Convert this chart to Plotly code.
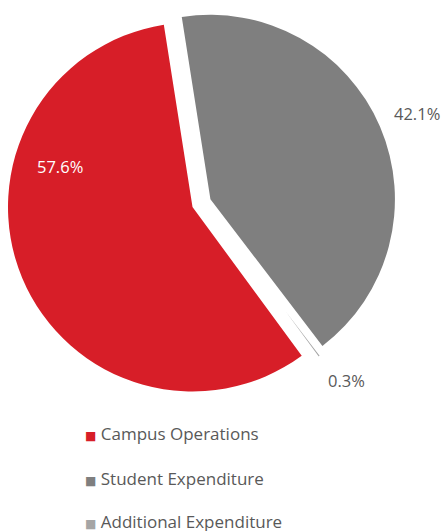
import math
import plotly.graph_objects as go

categories = ["Campus Operations", "Student Expenditure", "Additional Expenditure"]
values = [57.6, 42.1, 0.3]
colors = ["#D71E28", "#7F7F7F", "#A5A5A5"]

# style / layout constants
W, H = 443, 531
CX, CY, R = 192.5, 207.0, 184.5          # base pie centre and radius (px)
ROTATION = 143.7
explode_radial_px = [0.0, 19.5, 12.0]
explode_tangential_px = [0.0, 0.0, 12.0]  # towards the preceding (anticlockwise) side
border_px = [0.0, 0.0, 2.4]               # white slice border
label_pos = [(60, 167), (416.5, 113), (346.5, 380)]
label_colors = ["#FFFFFF", "#595959", "#595959"]
legend_x = 83
legend_rows = [433, 478, 521]
FONT = "Open Sans"

total = sum(values)
fig = go.Figure()

cum = 0.0
for i, (cat, v) in enumerate(zip(categories, values)):
    start = ROTATION + 360.0 * cum / total
    mid = math.radians(start + 180.0 * v / total)
    cum += v
    rr, tt = explode_radial_px[i], explode_tangential_px[i]
    dx = rr * math.sin(mid) - tt * math.cos(mid)
    dy = -rr * math.cos(mid) - tt * math.sin(mid)
    cx, cy = CX + dx, CY + dy
    slice_colors = [c if j == i else "rgba(0,0,0,0)" for j, c in enumerate(colors)]
    line_w = [border_px[i] if j == i else 0 for j in range(len(values))]
    fig.add_trace(go.Pie(
        labels=categories, values=values, sort=False, direction="clockwise",
        rotation=ROTATION,
        marker=dict(colors=slice_colors, line=dict(width=line_w, color="white")),
        textinfo="none", hoverinfo="label+percent", showlegend=False,
        domain=dict(x=[(cx - R) / W, (cx + R) / W],
                    y=[1 - (cy + R) / H, 1 - (cy - R) / H]),
    ))

annotations = []
# percentage labels
for (px, py), v, col in zip(label_pos, values, label_colors):
    annotations.append(dict(
        x=px / W, y=1 - py / H, xref="paper", yref="paper",
        text=f"{v:.1f}%", showarrow=False,
        font=dict(family=FONT, size=16.5, color=col),
        xanchor="center", yanchor="middle",
    ))
# legend entries (coloured square glyph + name)
for cat, c, ry in zip(categories, colors, legend_rows):
    annotations.append(dict(
        x=legend_x / W, y=1 - ry / H, xref="paper", yref="paper",
        text=f'<span style="color:{c};font-family:DejaVu Sans;font-size:12px">■</span> {cat}',
        showarrow=False, align="left",
        font=dict(family=FONT, size=17, color="#595959"),
        xanchor="left", yanchor="middle",
    ))

fig.update_layout(
    width=W, height=H,
    margin=dict(l=0, r=0, t=0, b=0),
    paper_bgcolor="white", plot_bgcolor="white",
    showlegend=False,
    annotations=annotations,
    font=dict(family=FONT),
)

fig.write_html(
    "out.html",
    config={"displayModeBar": False},
    post_script="document.body.style.margin='0';document.body.style.overflow='hidden';",
)
